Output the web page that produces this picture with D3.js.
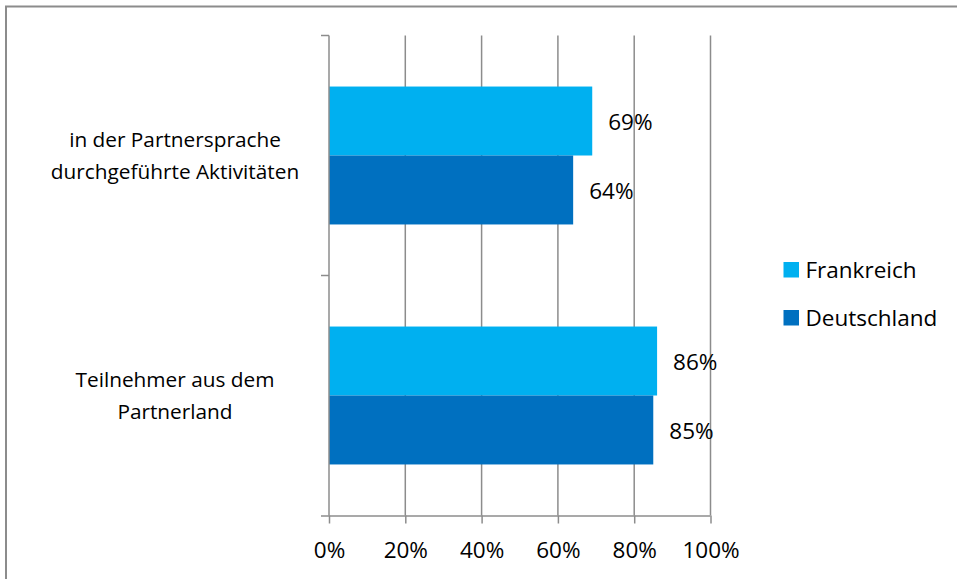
<!DOCTYPE html>
<html>
<head>
<meta charset="utf-8">
<script src="https://cdn.jsdelivr.net/npm/d3@7"></script>
<style>
  html, body { margin: 0; padding: 0; background: #fff; }
  svg { display: block; }
  text { font-family: "Open Sans", "Noto Sans", sans-serif; fill: #000; }
</style>
</head>
<body>
<svg id="chart" width="957" height="579"></svg>
<script>
// Categories (top to bottom), each label split into two lines
const categories = ["in der Partnersprache durchgeführte Aktivitäten", "Teilnehmer aus dem Partnerland"];
const categoryLines = [["in der Partnersprache", "durchgeführte Aktivitäten"], ["Teilnehmer aus dem", "Partnerland"]];
const seriesNames = ["Frankreich", "Deutschland"];
const seriesColors = ["#00B0F0", "#0070C0"];
const frankreich = [0.69, 0.86];
const deutschland = [0.64, 0.85];
const xTicks = [0, 0.2, 0.4, 0.6, 0.8, 1.0];

const seriesValues = [frankreich, deutschland];
const svg = d3.select("#chart");

// Outer frame (only top and left edges are visible)
svg.append("path")
  .attr("d", "M6,579 V6.5 H957")
  .attr("fill", "none")
  .attr("stroke", "#8c8c8c")
  .attr("stroke-width", 2);

const plot = { left: 329, right: 710.5, top: 35.5, bottom: 515.5 };

const x = d3.scaleLinear().domain([0, 1]).range([plot.left, plot.right]);
const y = d3.scaleBand().domain(categories).range([plot.top, plot.bottom]).paddingInner(0).paddingOuter(0);
const barBand = d3.scaleBand().domain(seriesNames)
  .range([0, y.bandwidth()]).paddingInner(0).paddingOuter(0.74);

// Vertical gridlines
svg.append("g").selectAll("line")
  .data(xTicks.slice(1))
  .join("line")
  .attr("x1", d => x(d)).attr("x2", d => x(d))
  .attr("y1", plot.top).attr("y2", plot.bottom)
  .attr("stroke", "#8c8c8c").attr("stroke-width", 1.5);

// Bars with value labels
categories.forEach((cat, ci) => {
  seriesNames.forEach((s, si) => {
    const v = seriesValues[si][ci];
    const y0 = y(cat) + barBand(s);
    svg.append("rect")
      .attr("x", x(0))
      .attr("y", y0)
      .attr("width", x(v) - x(0))
      .attr("height", barBand.bandwidth())
      .attr("fill", seriesColors[si]);
    svg.append("text")
      .attr("x", x(v) + 16)
      .attr("y", y0 + barBand.bandwidth() / 2 + 1)
      .attr("dy", "0.35em")
      .attr("font-size", 22.5)
      .text(Math.round(v * 100) + "%");
  });
});

// X axis (bottom) with percent labels
const xAxis = d3.axisBottom(x).tickValues(xTicks).tickSize(8).tickFormat(d3.format(".0%"));
const gx = svg.append("g").attr("transform", `translate(0,${plot.bottom})`).call(xAxis);
gx.select(".domain").attr("stroke", "#8c8c8c").attr("stroke-width", 1.5)
  .attr("d", `M${plot.left - 8},0.5H${plot.right}`);
gx.selectAll(".tick line").attr("stroke", "#8c8c8c").attr("stroke-width", 1.5);
gx.selectAll(".tick text").attr("font-size", 22.5).attr("y", 34.5).attr("dy", "0.35em")
  .style("font-family", "'Open Sans', sans-serif").attr("fill", "#000");

// Y axis (left) with category boundary ticks
svg.append("line")
  .attr("x1", plot.left).attr("x2", plot.left)
  .attr("y1", plot.top).attr("y2", plot.bottom)
  .attr("stroke", "#8c8c8c").attr("stroke-width", 1.5);
const boundaries = [plot.top, y(categories[1])];
svg.append("g").selectAll("line")
  .data(boundaries)
  .join("line")
  .attr("x1", plot.left - 8).attr("x2", plot.left)
  .attr("y1", d => d).attr("y2", d => d)
  .attr("stroke", "#8c8c8c").attr("stroke-width", 1.5);

// Category labels
categories.forEach((cat, ci) => {
  const cy = y(cat) + y.bandwidth() / 2;
  const lines = categoryLines[ci];
  const t = svg.append("text")
    .attr("text-anchor", "middle")
    .attr("font-size", 20.8);
  lines.forEach((ln, li) => {
    t.append("tspan")
      .attr("x", 175)
      .attr("y", cy + (li - (lines.length - 1) / 2) * 31.5)
      .attr("dy", "0.35em")
      .text(ln);
  });
});

// Legend
const legend = svg.append("g");
seriesNames.forEach((s, si) => {
  const ly = 270 + si * 48;
  legend.append("rect")
    .attr("x", 783.5).attr("y", ly - 8)
    .attr("width", 15.5).attr("height", 15.5)
    .attr("fill", seriesColors[si]);
  legend.append("text")
    .attr("x", 805.5).attr("y", ly)
    .attr("dy", "0.35em")
    .attr("font-size", 22.5)
    .text(s);
});
</script>
</body>
</html>
